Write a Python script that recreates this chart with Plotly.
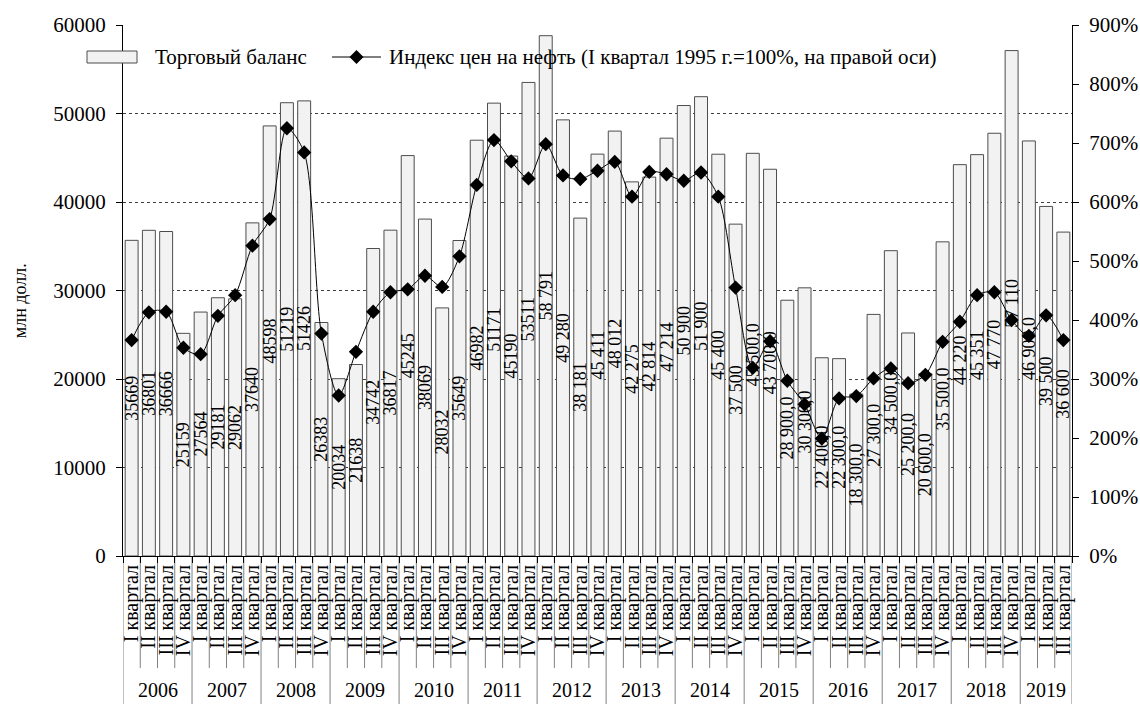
import plotly.graph_objects as go

# Quarterly data, 2006 Q1 - 2019 Q3
years = [2006, 2007, 2008, 2009, 2010, 2011, 2012, 2013, 2014, 2015, 2016, 2017, 2018, 2019]
quarters_per_year = [4, 4, 4, 4, 4, 4, 4, 4, 4, 4, 4, 4, 4, 3]
quarter_names = ["I квартал", "II квартал", "III квартал", "IV квартал"]

# Trade balance, mln USD
trade_balance = [
    35669, 36801, 36666, 25159,
    27564, 29181, 29062, 37640,
    48598, 51219, 51426, 26383,
    20034, 21638, 34742, 36817,
    45245, 38069, 28032, 35649,
    46982, 51171, 45190, 53511,
    58791, 49280, 38181, 45411,
    48012, 42275, 42814, 47214,
    50900, 51900, 45400, 37500,
    45500, 43700, 28900, 30300,
    22400, 22300, 18300, 27300,
    34500, 25200, 20600, 35500,
    44220, 45351, 47770, 57110,
    46900, 39500, 36600,
]

# Oil price index, % (I quarter 1995 = 100%)
oil_index = [
    366, 413, 414, 353,
    342, 407, 442, 526,
    571, 725, 684, 377,
    272, 346, 414, 447,
    452, 475, 456, 508,
    629, 705, 669, 640,
    698, 645, 639, 653,
    668, 609, 651, 647,
    636, 650, 609, 455,
    319, 364, 297, 257,
    199, 267, 271, 301,
    318, 293, 307, 363,
    397, 442, 447, 400,
    373, 408, 366,
]

# Number format of each bar label: p - plain, s - grouped, d - grouped with one decimal
label_styles = ["p"] * 24 + ["s"] * 12 + ["d"] * 12 + ["s"] * 4 + ["d"] + ["s"] * 2


def fmt(v, style):
    if style == "p":
        return f"{v:.0f}"
    if style == "s":
        return f"{v:,.0f}".replace(",", " ")
    return f"{v:,.1f}".replace(",", " ").replace(".", ",")


cat_ids, tick_text = [], []
for y, n in zip(years, quarters_per_year):
    for q in range(n):
        cat_ids.append(f"{y}-{q + 1}")
        tick_text.append(quarter_names[q])

labels = [fmt(v, s) for v, s in zip(trade_balance, label_styles)]

FONT = "Liberation Serif, Times New Roman, serif"
BAR_FILL = "#f2f2f2"
BAR_EDGE = "#4d4d4d"

fig = go.Figure()
fig.add_trace(go.Bar(
    x=cat_ids, y=trade_balance, name="Торговый баланс",
    marker=dict(color=BAR_FILL, line=dict(color=BAR_EDGE, width=1)),
    text=labels, textposition="inside", insidetextanchor="middle",
    textangle=-90, constraintext="none",
    textfont=dict(family=FONT, size=18, color="black"),
    showlegend=False,
))
fig.add_trace(go.Scatter(
    x=cat_ids, y=oil_index, yaxis="y2", mode="lines+markers",
    name="Индекс цен на нефть (I квартал 1995 г.=100%, на правой оси)",
    line=dict(color="black", width=1, shape="spline", smoothing=0.8),
    marker=dict(symbol="diamond", size=11, color="black"),
    showlegend=False,
))

n = len(cat_ids)
plot_w, plot_h = 949, 531

shapes = []
# Boundary lines under the category axis
year_starts = []
pos = 0
for cnt in quarters_per_year:
    year_starts.append(pos)
    pos += cnt
year_bounds = set(year_starts + [n])
for b in range(n + 1):
    long_line = b in year_bounds
    shapes.append(dict(
        type="line", xref="x", yref="paper",
        x0=b - 0.5, x1=b - 0.5, y0=0, y1=-0.30 if long_line else -0.211,
        line=dict(color="#808080", width=1), layer="below",
    ))

annotations = []
# Year labels
for ys, cnt, y in zip(year_starts, quarters_per_year, years):
    annotations.append(dict(
        x=ys + (cnt - 1) / 2, y=-0.252, xref="x", yref="paper",
        text=str(y), showarrow=False, xanchor="center", yanchor="middle",
        font=dict(family=FONT, size=20, color="black"),
    ))

# Axis title
annotations.append(dict(
    x=-0.1085, y=0.48, xref="paper", yref="paper", text="млн долл.",
    textangle=-90, showarrow=False, xanchor="center", yanchor="middle",
    font=dict(family=FONT, size=18, color="black"),
))


# Legend
def px_x(p):
    return (p - 123) / plot_w


def px_y(p):
    return (556 - p) / plot_h


shapes.append(dict(
    type="rect", xref="paper", yref="paper",
    x0=px_x(87), x1=px_x(137), y0=px_y(63), y1=px_y(51),
    fillcolor=BAR_FILL, line=dict(color=BAR_EDGE, width=1),
))
annotations.append(dict(
    x=px_x(153), y=px_y(57), xref="paper", yref="paper",
    xanchor="left", yanchor="middle",
    text="Торговый баланс", showarrow=False,
    font=dict(family=FONT, size=21, color="black"),
))
shapes.append(dict(
    type="line", xref="paper", yref="paper",
    x0=px_x(332), x1=px_x(381), y0=px_y(57), y1=px_y(57),
    line=dict(color="black", width=1),
))
shapes.append(dict(
    type="path", xref="paper", yref="paper", xsizemode="pixel", ysizemode="pixel",
    xanchor=px_x(356.5), yanchor=px_y(57),
    path="M0,7 L7,0 L0,-7 L-7,0 Z",
    fillcolor="black", line=dict(color="black", width=0),
))
annotations.append(dict(
    x=px_x(387), y=px_y(57), xref="paper", yref="paper",
    xanchor="left", yanchor="middle",
    text="Индекс цен на нефть (I квартал 1995 г.=100%, на правой оси)", showarrow=False,
    font=dict(family=FONT, size=21, color="black"),
))

fig.update_layout(
    width=1140, height=704,
    margin=dict(l=123, r=68, t=25, b=148, autoexpand=False),
    paper_bgcolor="white", plot_bgcolor="white",
    font=dict(family=FONT, color="black"),
    bargap=0.25,
    xaxis=dict(
        type="category", categoryorder="array", categoryarray=cat_ids,
        tickvals=cat_ids, ticktext=tick_text, tickangle=-90,
        tickfont=dict(family=FONT, size=20, color="black"),
        ticks="outside", ticklen=6, tickcolor="black", tickson="boundaries",
        showline=True, linecolor="black", linewidth=1,
        showgrid=False, range=[-0.5, n - 0.5], automargin=False,
    ),
    yaxis=dict(
        range=[0, 60000], dtick=10000, tickformat="d",
        tickfont=dict(family=FONT, size=21, color="black"),
        ticks="outside", ticklen=6, tickcolor="black", ticklabelstandoff=6,
        showline=True, linecolor="black", linewidth=1,
        showgrid=True, gridcolor="#404040", griddash="dot", gridwidth=1,
        zeroline=False, automargin=False,
    ),
    yaxis2=dict(
        range=[0, 900], dtick=100, ticksuffix="%", overlaying="y", side="right",
        tickfont=dict(family=FONT, size=21, color="black"),
        ticks="outside", ticklen=6, tickcolor="black", ticklabelstandoff=6,
        showline=True, linecolor="black", linewidth=1,
        showgrid=False, zeroline=False, automargin=False,
    ),
    shapes=shapes, annotations=annotations,
    showlegend=False,
)

fig.write_html("out.html")
